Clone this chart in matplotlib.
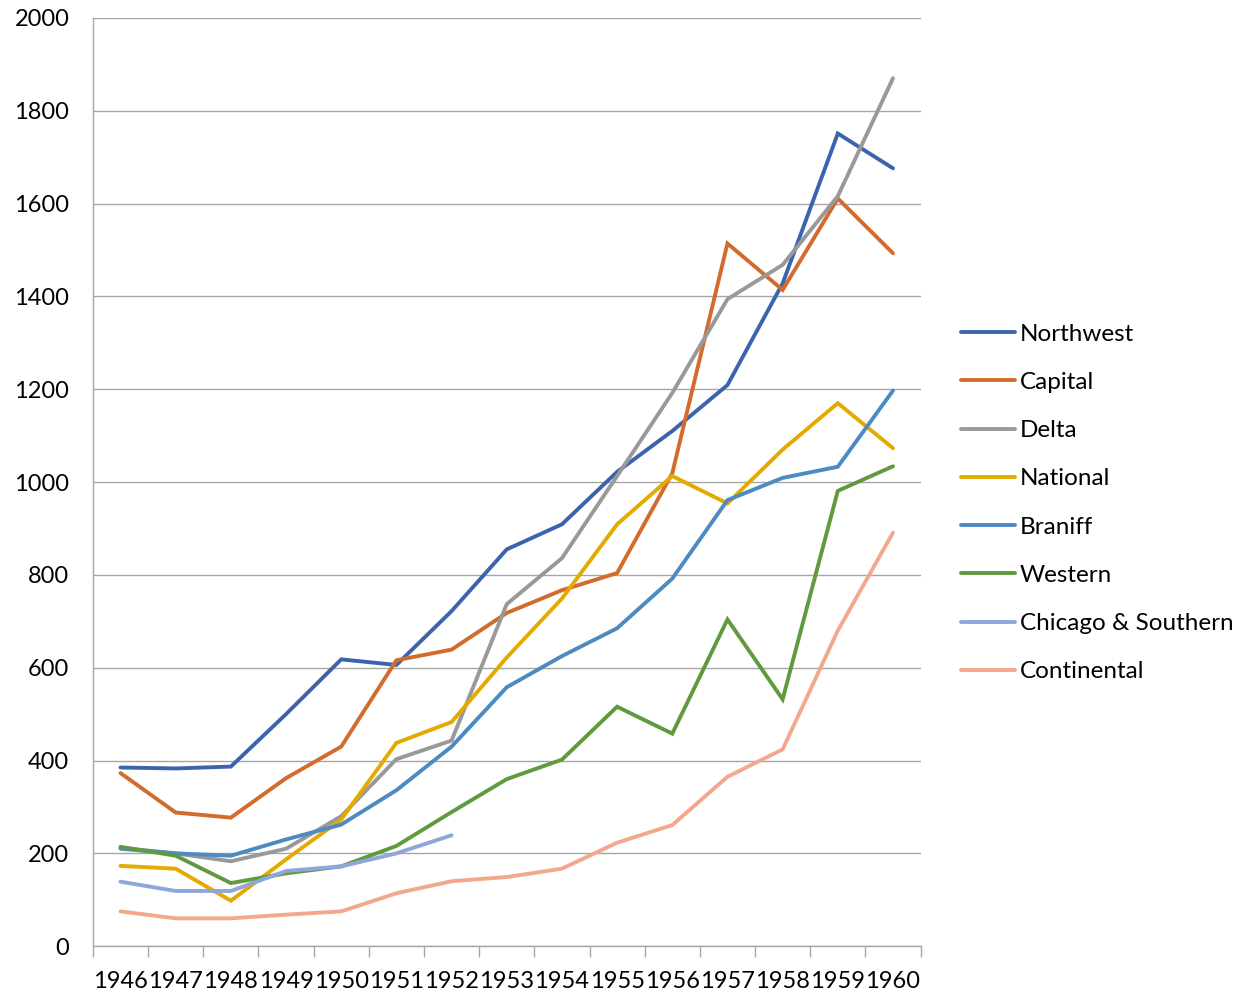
import matplotlib.pyplot as plt
import numpy as np

years = ['1946', '1947', '1948', '1949', '1950', '1951', '1952', '1953',
         '1954', '1955', '1956', '1957', '1958', '1959', '1960']

northwest = [385, 383, 387, 500, 618, 606, 722, 855, 909, 1022, 1110, 1209, 1428, 1751, 1676]
capital = [373, 288, 277, 362, 430, 616, 639, 718, 767, 804, 1019, 1514, 1414, 1611, 1493]
delta = [212, 200, 183, 210, 280, 403, 443, 737, 836, 1013, 1192, 1394, 1468, 1616, 1870]
national = [173, 167, 98, 187, 273, 438, 483, 622, 749, 909, 1013, 954, 1070, 1170, 1073]
braniff = [210, 200, 195, 230, 262, 336, 430, 558, 625, 685, 792, 961, 1009, 1033, 1197]
western = [214, 195, 136, 157, 172, 216, 289, 360, 402, 516, 458, 704, 532, 981, 1034]
chicago = [139, 119, 119, 162, 172, 200, 239]
continental = [75, 60, 60, 68, 75, 114, 140, 149, 167, 223, 261, 365, 424, 680, 891]

series = [
    ('Northwest', northwest, '#3C64AE'),
    ('Capital', capital, '#D26B2B'),
    ('Delta', delta, '#999999'),
    ('National', national, '#E5AA00'),
    ('Braniff', braniff, '#4D8AC2'),
    ('Western', western, '#5F9A3F'),
    ('Chicago & Southern', chicago, '#8EA6D9'),
    ('Continental', continental, '#F3A88E'),
]

plt.rcParams['font.family'] = ['Lato', 'DejaVu Sans']

fig = plt.figure(figsize=(12.39, 9.96), dpi=100)
ax = fig.add_axes([0.075, 0.050, 0.668, 0.932])

x = np.arange(len(years))
for name, vals, col in series:
    ax.plot(x[:len(vals)], vals, color=col, lw=2.8, label=name,
            solid_joinstyle='miter', solid_capstyle='round')

ax.set_ylim(0, 2000)
ax.set_yticks(range(0, 2001, 200))
ax.set_xlim(-0.5, len(years) - 0.5)
ax.set_xticks(np.arange(-0.5, len(years)), labels=[])
ax.set_xticks(x, labels=years, minor=True)
ax.tick_params(axis='x', which='major', length=8, width=1, color='#A6A6A6', direction='out')
ax.tick_params(axis='x', which='minor', length=0, pad=18, labelsize=17)
ax.tick_params(axis='y', length=0, pad=17, labelsize=17)

ax.grid(axis='y', color='#A6A6A6', lw=1)
ax.set_axisbelow(True)
for s in ['top', 'right']:
    ax.spines[s].set_visible(False)
for s in ['left', 'bottom']:
    ax.spines[s].set_color('#A6A6A6')
    ax.spines[s].set_linewidth(1)

ax.legend(loc='center left', bbox_to_anchor=(0.768, 0.495), bbox_transform=fig.transFigure,
          frameon=False, fontsize=17.5, handlelength=2.2, handletextpad=0.2,
          labelspacing=1.12, borderaxespad=0)

fig.savefig('out.png', dpi=100)
